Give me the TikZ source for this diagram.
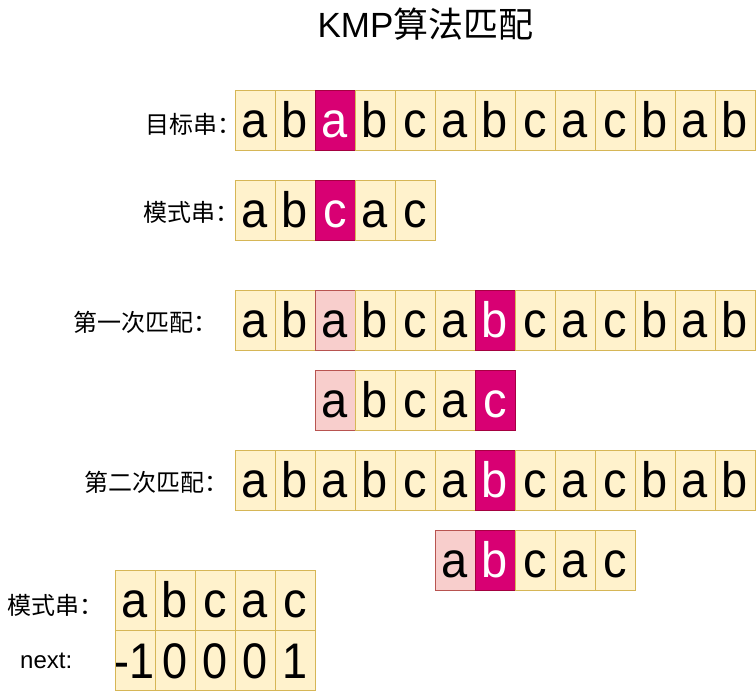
\documentclass[tikz,border=0pt]{standalone}
\usepackage{fontspec}
\usepackage{graphicx}
\setmainfont{Liberation Sans}
\newfontfamily\cjk{Noto Sans CJK SC}
\definecolor{yfill}{HTML}{FFF2CC}
\definecolor{yline}{HTML}{D6B656}
\definecolor{pfill}{HTML}{F8CECC}
\definecolor{pline}{HTML}{B85450}
\definecolor{mfill}{HTML}{D80073}
\definecolor{mline}{HTML}{A50040}
\newcommand\cellchar[1]{\makebox[0pt][c]{\scalebox{1}[1.06]{#1}}}
\newcommand\cellnum[1]{\makebox[0pt][c]{\scalebox{0.9}[1]{#1}}}
\tikzset{
  cellbox/.style={draw=yline, fill=yfill, minimum width=40pt, minimum height=60pt,
    inner sep=0pt, outer sep=0pt, text height=34pt, text depth=0pt,
    font=\fontsize{47}{50}\selectfont, line width=1pt},
  pinkbox/.style={cellbox, draw=pline, fill=pfill},
  hotbox/.style={cellbox, draw=mline, fill=mfill, text=white},
  numbox/.style={cellbox, text height=36pt, font=\fontsize{50}{54}\selectfont},
  lbl/.style={anchor=west, inner sep=0pt, font=\cjk\fontsize{24}{26}\selectfont},
  titletext/.style={inner sep=0pt, font=\fontsize{35}{38}\selectfont}
}
\begin{document}
\begin{tikzpicture}[x=1pt, y=-1pt]
\useasboundingbox (0,0) rectangle (756,692);

\node[titletext] (title) at (425.5,24) {KMP{\cjk 算法匹配}};

% target string
\foreach \c/\s [count=\i from 0] in {a/cellbox,b/cellbox,a/hotbox,b/cellbox,c/cellbox,a/cellbox,b/cellbox,c/cellbox,a/cellbox,c/cellbox,b/cellbox,a/cellbox,b/cellbox}
  \node[\s] (ta\i) at ({255+40*\i},121) {\cellchar{\c}};
\node[lbl] (lta) at (145,124) {目标串：};

% pattern
\foreach \c/\s [count=\i from 0] in {a/cellbox,b/cellbox,c/hotbox,a/cellbox,c/cellbox}
  \node[\s] (pa\i) at ({255+40*\i},211) {\cellchar{\c}};
\node[lbl] (lpa) at (143,212) {模式串：};

% first match
\foreach \c/\s [count=\i from 0] in {a/cellbox,b/cellbox,a/pinkbox,b/cellbox,c/cellbox,a/cellbox,b/hotbox,c/cellbox,a/cellbox,c/cellbox,b/cellbox,a/cellbox,b/cellbox}
  \node[\s] (tb\i) at ({255+40*\i},321) {\cellchar{\c}};
\node[lbl] (ltb) at (73,322) {第一次匹配：};
\foreach \c/\s [count=\i from 0] in {a/pinkbox,b/cellbox,c/cellbox,a/cellbox,c/hotbox}
  \node[\s] (pb\i) at ({335+40*\i},401) {\cellchar{\c}};

% second match
\foreach \c/\s [count=\i from 0] in {a/cellbox,b/cellbox,a/cellbox,b/cellbox,c/cellbox,a/cellbox,b/hotbox,c/cellbox,a/cellbox,c/cellbox,b/cellbox,a/cellbox,b/cellbox}
  \node[\s] (tc\i) at ({255+40*\i},481) {\cellchar{\c}};
\node[lbl] (ltc) at (84,482) {第二次匹配：};
\foreach \c/\s [count=\i from 0] in {a/pinkbox,b/hotbox,c/cellbox,a/cellbox,c/cellbox}
  \node[\s] (pc\i) at ({455+40*\i},561) {\cellchar{\c}};

% next table
\foreach \c [count=\i from 0] in {a,b,c,a,c}
  \node[cellbox] (pd\i) at ({135+40*\i},601) {\cellchar{\c}};
\foreach \c [count=\i from 0] in {-1,0,0,0,1}
  \node[numbox] (nx\i) at ({135+40*\i},661) {\cellnum{\c}};
\node[lbl] (lpd) at (7,605) {模式串：};
\node[anchor=base west, inner sep=0pt, font=\fontsize{24}{26}\selectfont] (lnx) at (20,669) {next:};
\end{tikzpicture}
\end{document}
